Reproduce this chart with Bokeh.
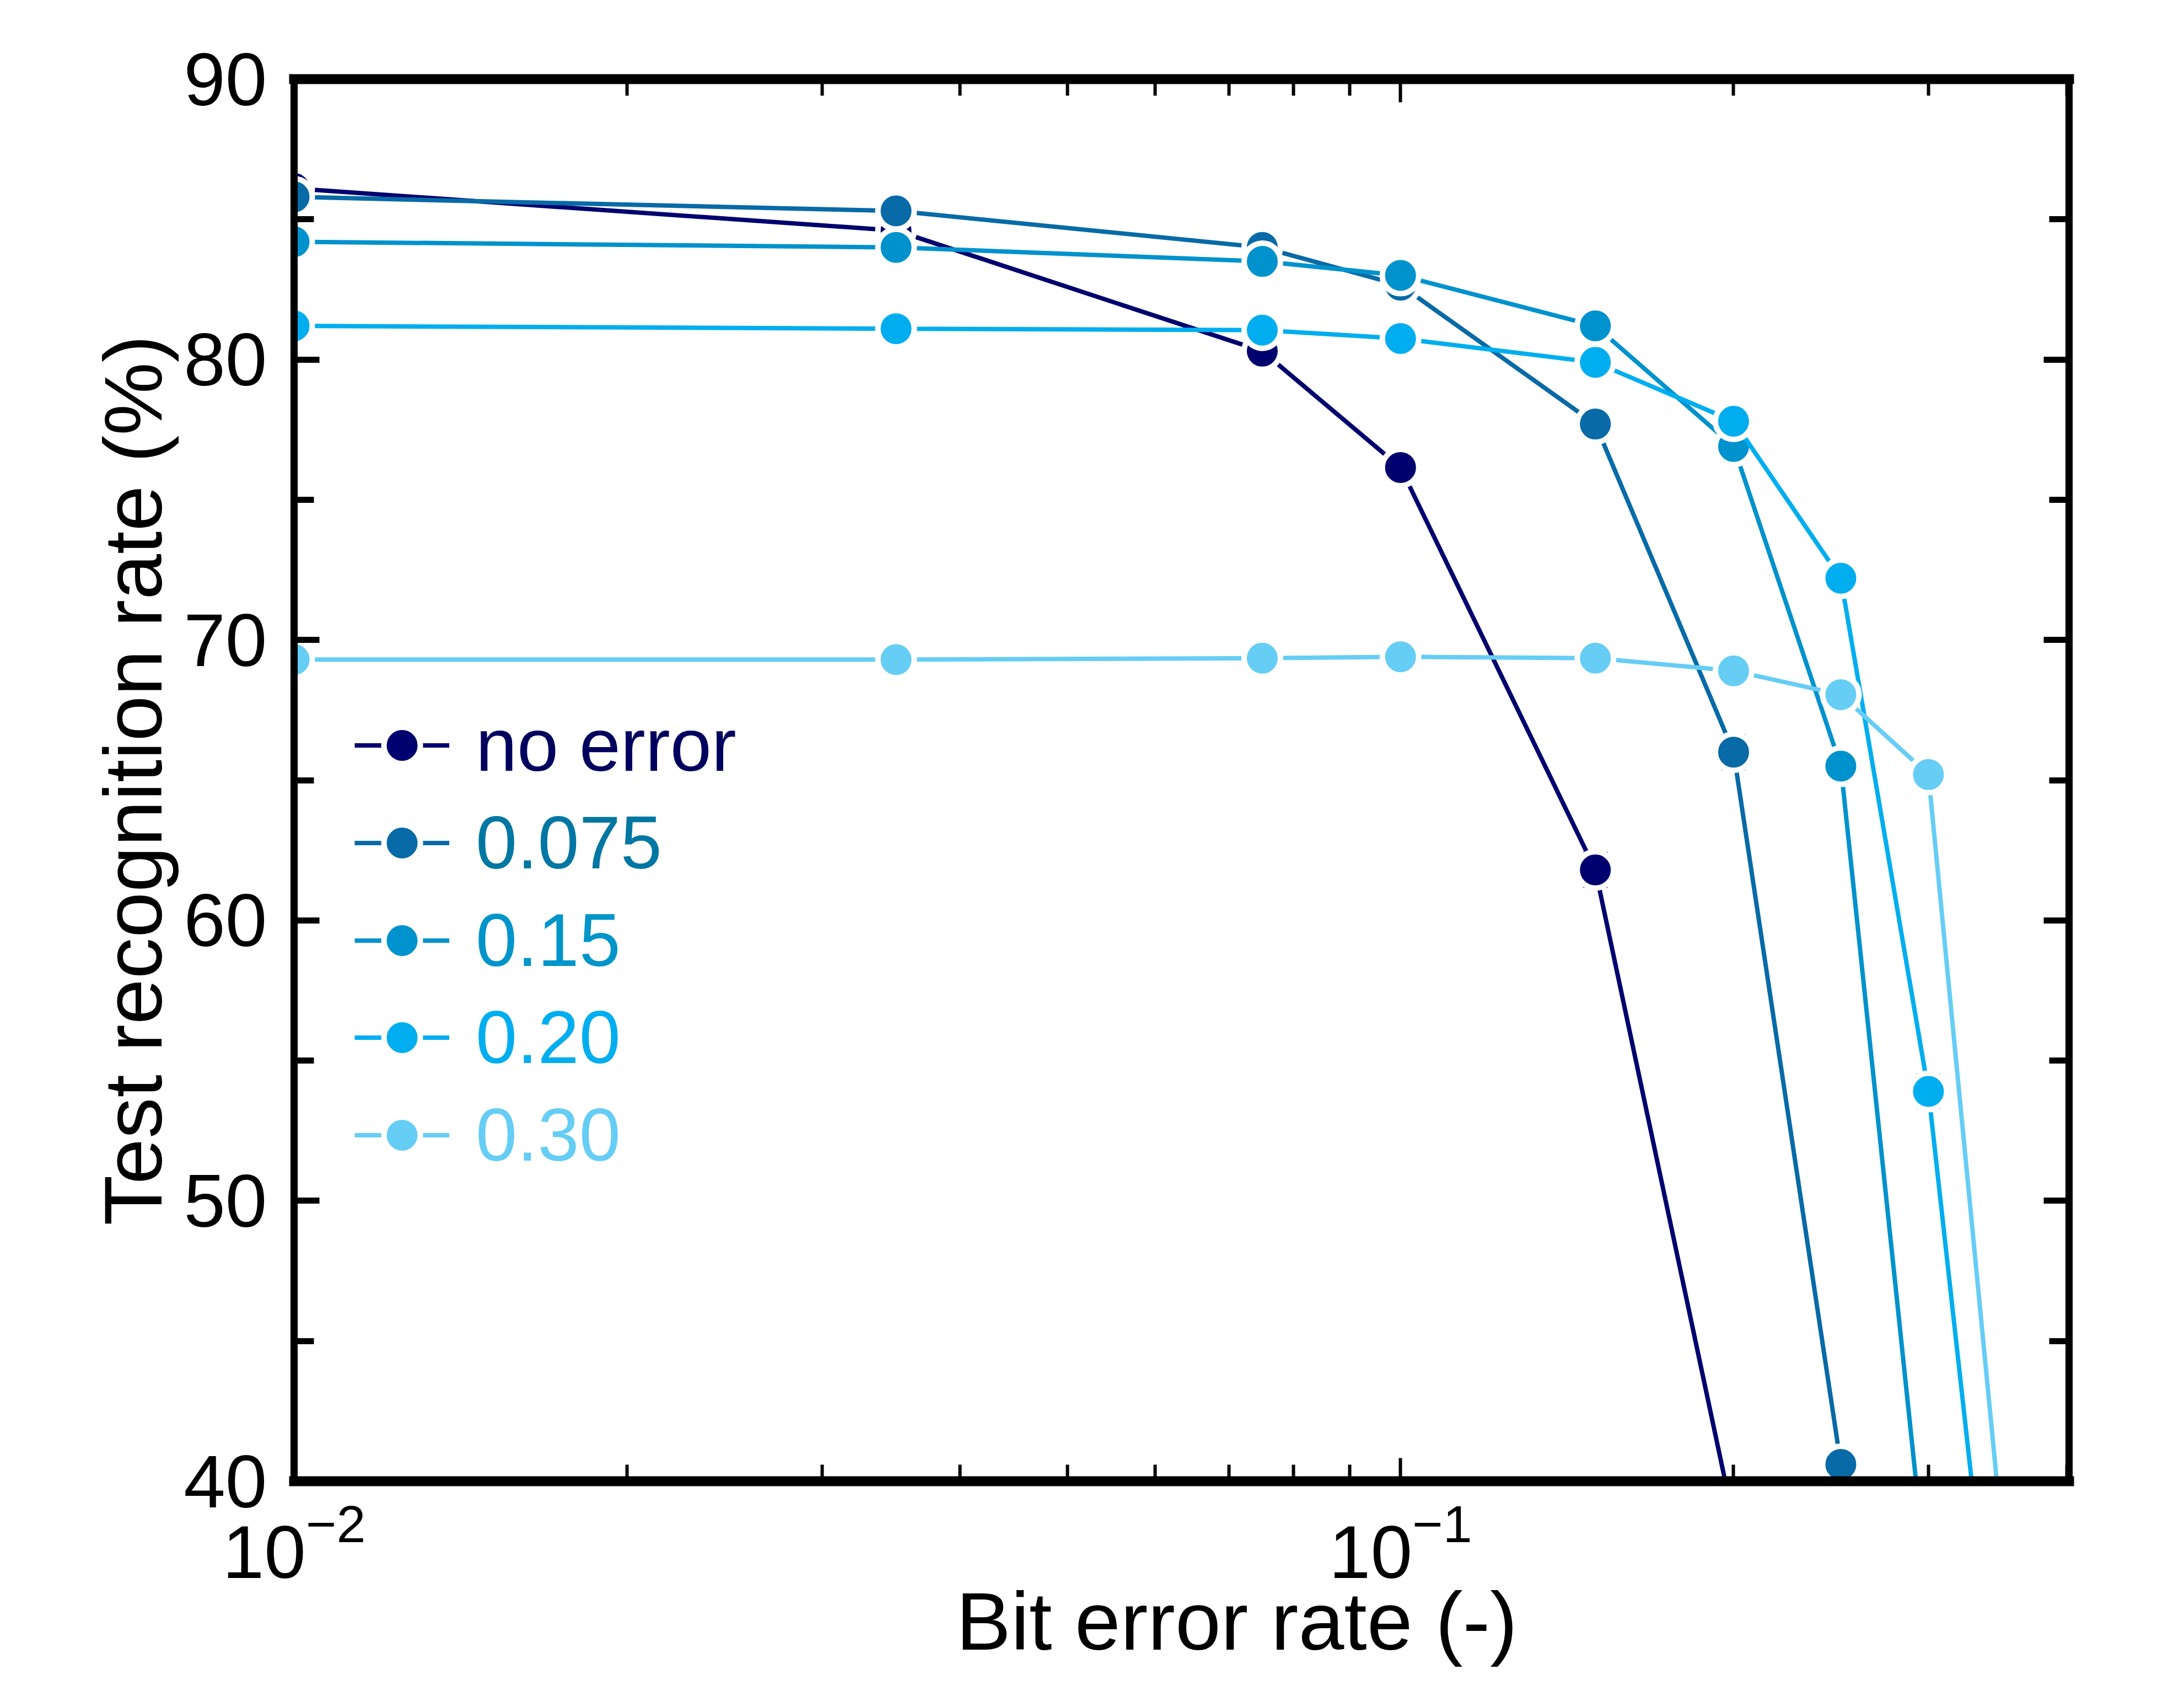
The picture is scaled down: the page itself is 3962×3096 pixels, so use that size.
from bokeh.plotting import figure
from bokeh.models import (LinearAxis, LogAxis, SingleIntervalTicker, FixedTicker,
                          LogTickFormatter, CustomJSTickFormatter, Title,
                          Legend, LegendItem, Whisker, ColumnDataSource)
from bokeh.embed import file_html
from bokeh.resources import INLINE

# ---- data ----
ber = [0.01, 0.035, 0.075, 0.1, 0.15, 0.2, 0.25, 0.3, 0.35]
series_names = ["no error", "0.075", "0.15", "0.20", "0.30"]
acc_no_error = [86.1, 84.6, 80.3, 76.15, 61.8, 38.6]
acc_0075 = [85.8, 85.3, 84.0, 82.65, 77.7, 66.0, 40.6]
acc_015 = [84.2, 84.0, 83.5, 83.0, 81.2, 76.9, 65.5, 35.8]
acc_020 = [81.2, 81.1, 81.05, 80.75, 79.9, 77.8, 72.2, 53.9, 30.1]
acc_030 = [69.3, 69.3, 69.35, 69.4, 69.35, 68.9, 68.05, 65.2, 37.9]
err_no_error = [0.2, 0.3, 0.3, 0.45, 0.55, 0.5]
err_0075 = [0.2, 0.3, 0.3, 0.3, 0.3, 0.55, 0.5]
err_015 = [0.2, 0.2, 0.2, 0.3, 0.3, 0.3, 0.5, 0.5]
err_020 = [0.2, 0.2, 0.2, 0.2, 0.3, 0.3, 0.3, 0.55, 0.5]
err_030 = [0.2, 0.2, 0.2, 0.2, 0.2, 0.2, 0.3, 0.3, 0.5]
colors = ["#00006E", "#086AA6", "#0092CC", "#00AEEF", "#66CDF5"]
text_colors = ["#00005E", "#0077A3", "#0095CA", "#00AEEF", "#66CDF5"]
x_major_ticks = [0.01, 0.1]
x_minor_ticks = [0.02, 0.03, 0.04, 0.05, 0.06, 0.07, 0.08, 0.09, 0.2, 0.3, 0.4]
y_ticks_interval = 10
x_label = "Bit error rate (-)"
y_label = "Test recognition rate (%)"

all_acc = [acc_no_error, acc_0075, acc_015, acc_020, acc_030]
all_err = [err_no_error, err_0075, err_015, err_020, err_030]

FONT = "Liberation Sans"

p = figure(width=3946, height=3080, x_axis_type="log",
           x_range=(0.01, 0.402), y_range=(40, 90),
           output_backend="svg", toolbar_location=None,
           min_border_left=533, min_border_right=193,
           min_border_top=143, min_border_bottom=394)
p.grid.visible = False
p.outline_line_color = None
p.background_fill_color = "white"
p.border_fill_color = "white"

p.yaxis.ticker = SingleIntervalTicker(interval=y_ticks_interval, num_minor_ticks=2)
p.xaxis.ticker = FixedTicker(ticks=x_major_ticks, minor_ticks=x_minor_ticks)
p.xaxis.formatter = LogTickFormatter()


def style_axis(ax, labels=True, xaxis=False):
    ax.axis_line_color = "black"
    ax.axis_line_cap = "square"
    ax.major_tick_out = 0
    ax.minor_tick_out = 0
    if xaxis:
        ax.axis_line_width = 18
        ax.major_tick_in = 42
        ax.minor_tick_in = 30
        ax.major_tick_line_width = 6
        ax.minor_tick_line_width = 6
    else:
        ax.axis_line_width = 13
        ax.major_tick_in = 46
        ax.minor_tick_in = 36
        ax.major_tick_line_width = 11
        ax.minor_tick_line_width = 11
    ax.major_tick_line_color = "black"
    ax.minor_tick_line_color = "black"
    if labels:
        ax.major_label_text_font = FONT
        ax.major_label_text_font_size = "136px"
        ax.major_label_text_color = "black"
        ax.axis_label_text_font = FONT
        ax.axis_label_text_font_size = "149px"
        ax.axis_label_text_font_style = "normal"
        ax.axis_label_text_color = "black"
    else:
        ax.formatter = CustomJSTickFormatter(code="return ''")
        ax.major_label_standoff = 0


xa = p.xaxis[0]
style_axis(xa, xaxis=True)
xa.major_label_standoff = 38

ya = p.yaxis[0]
style_axis(ya)
ya.axis_label = y_label
ya.major_label_standoff = 49
ya.axis_label_standoff = 5

top = LogAxis(ticker=FixedTicker(ticks=x_major_ticks, minor_ticks=x_minor_ticks))
style_axis(top, labels=False, xaxis=True)
p.add_layout(top, "above")
right = LinearAxis(ticker=SingleIntervalTicker(interval=y_ticks_interval, num_minor_ticks=2))
style_axis(right, labels=False)
p.add_layout(right, "right")

# x-axis title, slightly right of centre as in the original
p.add_layout(Title(text=x_label, align="left", offset=1201, standoff=-20,
                   text_font=FONT, text_font_size="149px",
                   text_font_style="normal", text_color="black"), "below")

legend_centers = [1334, 1157, 980, 804, 627]
GH = 165

for i, (name, acc, err) in enumerate(zip(series_names, all_acc, all_err)):
    xs = ber[:len(acc)]
    src = ColumnDataSource(dict(x=xs, y=acc,
                                lo=[a - e for a, e in zip(acc, err)],
                                hi=[a + e for a, e in zip(acc, err)]))
    ln = p.line("x", "y", source=src, line_color=colors[i], line_width=8)
    sc = p.scatter("x", "y", source=src, size=66, fill_color=colors[i],
                   line_color="white", line_width=10)
    wh = Whisker(base="x", lower="lo", upper="hi", source=src,
                 line_color=colors[i], line_width=7)
    for head in (wh.upper_head, wh.lower_head):
        head.size = 44
        head.line_color = colors[i]
        head.line_width = 9
    p.add_layout(wh)

    lg = Legend(items=[LegendItem(label=name, renderers=[ln, sc])],
                location=(110, legend_centers[i] - GH // 2),
                padding=0, margin=0, spacing=0,
                glyph_width=172, glyph_height=GH, label_standoff=48,
                label_text_font=FONT, label_text_font_size="135px",
                label_text_color=text_colors[i],
                border_line_color=None, background_fill_alpha=0)
    p.add_layout(lg, "center")

open("out.html", "w").write(file_html(p, INLINE))
